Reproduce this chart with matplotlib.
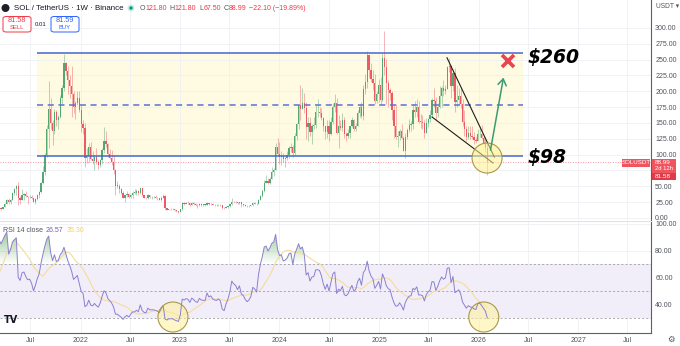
import numpy as np
import pandas as pd
import matplotlib
matplotlib.use("Agg")
import matplotlib.pyplot as plt
import matplotlib.dates as mdates
from matplotlib.patches import Ellipse, Rectangle, FancyBboxPatch, PathPatch
from matplotlib.path import Path

plt.rcParams['font.family'] = ['Liberation Sans', 'DejaVu Sans']

# ---------------- data (weekly SOL/USDT) ----------------
first_week = "2021-03-08"
first_open = 14.0
# warm-up closes (weeks before the visible range, only used to seed the RSI)
warmup_close = [3.0, 3.6, 4.5, 3.3, 3.1, 2.9, 2.95, 2.85, 2.7, 2.6, 1.9, 1.75,
                1.65, 1.9, 2.3, 2.6, 2.0, 1.75, 1.6, 1.5, 1.55, 3.4, 3.1, 3.9,
                4.3, 8.0, 8.4, 11.5, 14.0, 14.5]

c21 = [15.0, 14.6, 17.5, 22.5, 29.0, 24.5, 29.0, 40, 45, 50, 31, 29, 37, 38, 35, 33, 33.5, 31, 26, 30, 36, 41,
       55, 73, 100, 141, 172, 150, 137, 167, 155, 160, 190, 205, 245, 232, 218, 208, 195, 175, 182, 190, 170]
h21 = [16.0, 16.8, 18.0, 23.5, 30.5, 31.5, 30.0, 41, 48, 52, 57, 34, 45, 40, 43, 35.5, 37, 36, 32, 32, 38, 42,
       57, 82, 102, 147, 216, 190, 155, 172, 170, 163, 194, 210, 259, 247, 240, 225, 240, 200, 185, 200, 200]
l21 = [12.5, 13.2, 13.5, 17.0, 22.0, 22.0, 22.5, 28.5, 37, 37, 20.5, 22, 28, 29, 33, 22.5, 31, 30, 25, 22.5, 28, 32,
       40, 53, 68, 97, 110, 140, 115, 132, 145, 140, 158, 180, 200, 225, 195, 190, 160, 165, 157, 178, 168]

c22 = [148, 142, 94, 98, 112, 93, 90, 96, 88, 83, 92, 108, 122, 117, 101, 95, 88, 76, 51, 51, 45, 40, 32, 36, 38, 33,
       37, 40, 40, 42, 39, 47, 36, 32, 31, 36, 33, 33, 33, 32, 31, 29, 32, 34, 15, 13, 14, 13.7, 13.8, 12, 11, 10]
h22 = [178, 155, 150, 110, 118, 120, 105, 100, 110, 92, 93, 110, 143, 138, 118, 109, 107, 100, 78, 58, 53, 48, 43, 37,
       43, 39, 38, 42, 46, 45, 44, 48, 47, 37, 33, 38, 37, 35, 35, 36, 33, 32, 34, 38, 36, 16, 14.5, 15, 15, 14.5, 12, 11]
l22 = [135, 132, 81, 87, 88, 91, 85, 76, 85, 78, 80, 86, 102, 112, 96, 93, 84, 70, 37, 47, 40, 38, 31, 26, 33, 31,
       32, 32, 38, 36, 37, 38, 35, 31, 30, 30, 31, 30, 31, 31, 29, 28, 27, 31, 12, 12, 12, 13, 13, 11, 9.5, 8.0]

c23 = [13.5, 23.5, 22.5, 23.5, 23.0, 20.5, 23.0, 22.0, 20.5, 20.0, 22.0, 21.0, 20.8, 20.8, 24.0, 22.0, 22.5, 21.0,
       20.5, 20.3, 20.8, 20.0, 16.2, 15.5, 17.5, 19.0, 21.5, 26.0, 25.0, 24.5, 23.0, 24.5, 21.5, 21.0, 19.5, 18.5,
       19.0, 20.0, 23.0, 22.5, 21.5, 28.5, 35.0, 42.0, 56.0, 58.0, 56.0, 62.0, 72.0, 76.0, 112, 101]
h23 = [14, 25, 26, 26, 26.5, 23.5, 26, 26, 23, 21.5, 23.5, 23.5, 22, 21.5, 26, 24, 23.5, 23, 21.5, 21.5, 21.5, 21.5,
       20, 17.5, 18.5, 19.5, 22, 32, 27.5, 26.5, 25, 25.5, 25, 21.5, 22.5, 20.5, 20, 20.5, 24, 24.5, 23, 30, 36, 46,
       60, 68, 63, 65, 80, 79, 118, 126]
l23 = [9.8, 13, 20, 21.5, 21.5, 19.5, 20, 21, 19.5, 16.5, 19, 19.5, 19.5, 19.5, 20.5, 20, 20.5, 20, 19.5, 19.5, 19.5,
       19.5, 14.5, 14.5, 15, 16, 18, 21, 24, 23.5, 22, 22.5, 17, 19.5, 19, 17.5, 17.5, 18.5, 19, 21.5, 20.5, 21.5, 28,
       33, 41, 55, 53, 54, 62, 67, 75, 98]

c24 = [96, 98, 93, 95, 99, 110, 112, 103, 130, 148, 178, 172, 182, 173, 143, 150, 135, 146, 147, 167, 167, 166, 158,
       145, 135, 146, 133, 152, 176, 182, 134, 146, 142, 154, 132, 129, 134, 145, 155, 141, 146, 166, 176, 161, 203,
       214, 257, 234, 220, 213, 185, 196, 210]
h24 = [120, 106, 102, 97, 105, 114, 118, 115, 134, 150, 180, 210, 205, 198, 183, 160, 160, 148, 159, 178, 188, 176,
       174, 160, 146, 155, 155, 160, 182, 195, 190, 163, 155, 165, 160, 136, 141, 146, 160, 157, 150, 170, 178, 183,
       210, 227, 264, 250, 244, 234, 228, 201, 219]
l24 = [85, 84, 88, 80, 92, 95, 104, 97, 100, 123, 140, 155, 177, 166, 125, 122, 130, 117, 141, 142, 160, 160, 155,
       138, 124, 126, 122, 131, 148, 167, 132, 110, 139, 138, 126, 122, 126, 127, 143, 138, 137, 146, 160, 158, 155,
       195, 205, 221, 214, 202, 180, 181, 183]

c25 = [187, 253, 238, 213, 202, 198, 170, 145, 128, 129, 138, 126, 106, 128, 139, 147, 148, 171, 167, 176, 152, 152,
       150, 134, 150, 157, 162, 186, 185, 165, 176, 192, 205, 200, 204, 238, 240, 208, 229, 183, 187, 192, 180, 152,
       140, 128, 134, 130, 128, 123, 121, 132]
h25 = [222, 260, 295, 251, 218, 205, 200, 178, 180, 137, 140, 148, 130, 134, 142, 157, 153, 180, 185, 188, 185, 164,
       162, 155, 158, 158, 170, 190, 206, 191, 182, 209, 209, 218, 210, 240, 253, 241, 236, 237, 210, 205, 205, 188,
       170, 146, 145, 145, 145, 135, 128, 140]
l25 = [180, 185, 226, 180, 175, 187, 155, 126, 125, 112, 123, 124, 105, 95, 124, 135, 138, 141, 160, 160, 150, 142,
       141, 126, 136, 143, 151, 160, 176, 155, 160, 174, 175, 193, 195, 203, 230, 190, 200, 168, 175, 180, 174, 145,
       130, 122, 125, 125, 125, 117, 118, 121]

c26 = [133, 127, 119, 111.09, 88.99]
h26 = [145, 147, 130, 124, 121.8]
l26 = [128, 125, 117, 104, 67.5]

support, resistance = 98, 260
time_labels = ["Jul", "2022", "Jul", "2023", "Jul", "2024", "Jul", "2025", "Jul", "2026", "Jul", "2027", "Jul"]
time_ticks = ["2021-07-01", "2022-01-01", "2022-07-01", "2023-01-01", "2023-07-01", "2024-01-01", "2024-07-01",
              "2025-01-01", "2025-07-01", "2026-01-01", "2026-07-01", "2027-01-01", "2027-07-01"]
price_ticks = [0, 25, 50, 75, 100, 125, 150, 175, 200, 225, 250, 275, 300]
price_labels = ["0.00", "25.00", "50.00", "", "100.00", "125.00", "150.00", "175.00", "200.00",
                "225.00", "250.00", "275.00", "300.00"]
rsi_ticks = [40, 60, 80, 100]

# ---------------- derived series ----------------
close = np.array(c21 + c22 + c23 + c24 + c25 + c26, float)
high = np.array(h21 + h22 + h23 + h24 + h25 + h26, float)
low = np.array(l21 + l22 + l23 + l24 + l25 + l26, float)
openp = np.concatenate([[first_open], close[:-1]])
high = np.maximum(high, np.maximum(openp, close))
low = np.minimum(low, np.minimum(openp, close))
dates = pd.date_range(first_week, periods=len(close), freq="7D")
xd = mdates.date2num(dates.to_pydatetime())

allc = np.concatenate([warmup_close, close])
n = 14
d = np.diff(allc)
g = np.where(d > 0, d, 0.0)
lo = np.where(d < 0, -d, 0.0)
ag = np.zeros_like(d); al = np.zeros_like(d)
ag[n - 1] = g[:n].mean(); al[n - 1] = lo[:n].mean()
for i in range(n, len(d)):
    ag[i] = (ag[i - 1] * (n - 1) + g[i]) / n
    al[i] = (al[i - 1] * (n - 1) + lo[i]) / n
rsi_all = np.full(len(allc), np.nan)
rsi_all[1 + n - 1:] = 100 - 100 / (1 + ag[n - 1:] / np.maximum(al[n - 1:], 1e-9))
rsi_ma_all = pd.Series(rsi_all).rolling(14).mean().values
rsi = rsi_all[len(warmup_close):]
rsi_ma = rsi_ma_all[len(warmup_close):]

# ---------------- figure layout (pixel based) ----------------
W, H = 680, 346
R = 651
fig = plt.figure(figsize=(W / 100, H / 100), dpi=100)
fig.patch.set_facecolor("white")
ax1 = fig.add_axes([0, 1 - 220 / H, R / W, 220 / H])
ax2 = fig.add_axes([0, 1 - 333 / H, R / W, (333 - 221) / H])

base = mdates.date2num(pd.Timestamp("2022-01-01"))
dpp = 365.25 / 99.5       # days per pixel
xl = base - 80.6 * dpp
xr = xl + R * dpp
for ax in (ax1, ax2):
    ax.set_xlim(xl, xr)
    ax.set_facecolor("white")
    ax.set_axisbelow(True)
ax1.set_ylim(-3.16, 344.2)
ax2.set_ylim(19.26, 102.2)

grid_c = "#eef0f4"
tick_x = mdates.date2num(pd.to_datetime(time_ticks).to_pydatetime())
for ax in (ax1, ax2):
    ax.set_xticks(tick_x)
    for s in ("left", "top", "bottom"):
        ax.spines[s].set_visible(False)
    ax.spines["right"].set_color("#5d606b")
    ax.spines["right"].set_linewidth(0.8)
    ax.grid(True, color=grid_c, lw=0.6)
    ax.yaxis.tick_right()
    ax.tick_params(axis="both", length=0, labelsize=5.0, labelcolor="#50535e")
ax1.set_xticklabels([])
ax2.set_xticklabels(time_labels)
ax2.tick_params(axis="x", pad=3.2)
ax2.spines["bottom"].set_visible(True)
ax2.spines["bottom"].set_color("#5d606b")
ax2.spines["bottom"].set_linewidth(0.8)
ax2.spines["top"].set_visible(True)
ax2.spines["top"].set_color("#e0e3eb")
ax2.spines["top"].set_linewidth(0.8)
ax1.set_yticks(price_ticks)
ax1.set_yticklabels(price_labels)
ax2.set_yticks(rsi_ticks)
ax2.set_yticklabels([f"{v:.2f}" for v in rsi_ticks])
ax1.tick_params(axis="y", pad=3.0)
ax2.tick_params(axis="y", pad=3.0)

# ---------------- price pane ----------------
box_x0 = mdates.date2num(pd.Timestamp("2021-07-25"))
box_x1 = mdates.date2num(pd.Timestamp("2026-06-13"))
ax1.add_patch(Rectangle((box_x0, support), box_x1 - box_x0, resistance - support,
                        facecolor="#fffbe2", edgecolor="none", zorder=0.5))
ax1.hlines([resistance, support], box_x0, box_x1, color="#4467d0", lw=1.1, zorder=3)
ax1.hlines([(resistance + support) / 2], box_x0, box_x1, color="#5a70d8", lw=1.1,
           linestyles=(0, (4, 3)), zorder=3)

up = close >= openp
col = np.where(up, "#52a872", "#ec5a66")
ax1.vlines(xd, low, high, colors=col, lw=0.45, zorder=2, alpha=0.7)
body_bottom = np.minimum(openp, close)
body_h = np.maximum(np.abs(close - openp), 0.6)
ax1.bar(xd, body_h, bottom=body_bottom, width=4.6, color=col, edgecolor="none", zorder=2.2)

ax1.axhline(88.99, color="#f23645", lw=0.6, ls=(0, (1, 2)), alpha=0.7, zorder=2.5)

def dn(s):
    return mdates.date2num(pd.Timestamp(s))

# wedge lines
ax1.plot([dn("2025-09-07"), dn("2026-02-28")], [253, 96], color="#1e1e1e", lw=0.8, zorder=4)
ax1.plot([dn("2025-07-14"), dn("2026-02-23")], [159.5, 86.8], color="#1e1e1e", lw=0.8, zorder=4)

# circle on price
ppy1 = 220 / (344.2 + 3.16)
ax1.add_patch(Ellipse((dn("2026-02-01"), 94.7), 2 * 15 * dpp, 2 * 15 / ppy1,
                      facecolor="#fff190", alpha=0.55, edgecolor="none", zorder=4.5))
ax1.add_patch(Ellipse((dn("2026-02-01"), 94.7), 2 * 15 * dpp, 2 * 15 / ppy1,
                      facecolor="none", edgecolor="#a8984c", lw=0.8, zorder=4.6))

# green arrow
ax1.annotate("", xy=(dn("2026-04-04"), 226), xytext=(dn("2026-02-12"), 103),
             arrowprops=dict(arrowstyle="->,head_length=0.45,head_width=0.3", color="#3a9b72", lw=1.1),
             zorder=5)
# red X
ax1.plot([dn("2026-04-19")], [248], marker="x", ms=8, mew=2.6, color="#e8454f", zorder=5)

ax1.text(dn("2026-07-01"), 254, "$260", fontsize=13.5, fontweight="bold", fontstyle="italic",
         family="DejaVu Sans", color="black", va="center", ha="left", zorder=6)
ax1.text(dn("2026-07-01"), 96, "$98", fontsize=13.5, fontweight="bold", fontstyle="italic",
         family="DejaVu Sans", color="black", va="center", ha="left", zorder=6)

# ---------------- RSI pane ----------------
ax2.axhspan(30, 70, facecolor="#f2eef9", edgecolor="none", zorder=0.3)
for lvl in (70, 50, 30):
    ax2.axhline(lvl, color="#8a8d96", lw=0.5, ls=(0, (3, 3)), zorder=1)

def grad_fill(ax, x, y, thr, above, rgb, amax):
    if above:
        coll = ax.fill_between(x, y, thr, where=y > thr, interpolate=True, facecolor="none", edgecolor="none")
        ext = (x[0], x[-1], thr, 102)
        alpha = np.linspace(0, amax, 100)[:, None]
    else:
        coll = ax.fill_between(x, y, thr, where=y < thr, interpolate=True, facecolor="none", edgecolor="none")
        ext = (x[0], x[-1], 19, thr)
        alpha = np.linspace(amax, 0, 100)[:, None]
    paths = coll.get_paths()
    if not paths:
        return
    cp = Path.make_compound_path(*paths)
    patch = PathPatch(cp, transform=ax.transData, facecolor="none", edgecolor="none")
    ax.add_patch(patch)
    img = np.zeros((100, 2, 4))
    img[..., 0], img[..., 1], img[..., 2] = rgb
    img[..., 3] = alpha
    im = ax.imshow(img, extent=ext, origin="lower", aspect="auto", zorder=1.5, interpolation="bilinear")
    im.set_clip_path(patch)

valid = ~np.isnan(rsi)
grad_fill(ax2, xd[valid], rsi[valid], 70, True, (0.30, 0.62, 0.30), 0.75)
grad_fill(ax2, xd[valid], rsi[valid], 30, False, (0.95, 0.25, 0.25), 0.45)
ax2.set_xlim(xl, xr)
ax2.set_ylim(19.26, 102.2)

ax2.plot(xd, rsi_ma, color="#f4dc9c", lw=0.8, zorder=2)
ax2.plot(xd, rsi, color="#8b7fd0", lw=0.7, zorder=3.5)

ppy2 = 112 / (102.2 - 19.26)
for cx in ("2022-12-06", "2026-01-20"):
    ax2.add_patch(Ellipse((dn(cx), 31.1), 2 * 15 * dpp, 2 * 15 / ppy2,
                          facecolor="#fff190", alpha=0.5, edgecolor="none", zorder=3))
    ax2.add_patch(Ellipse((dn(cx), 31.1), 2 * 15 * dpp, 2 * 15 / ppy2,
                          facecolor="none", edgecolor="#a8984c", lw=0.8, zorder=3.6))

# ---------------- overlay texts / widgets (figure pixel coords) ----------------
def fx(x):
    return x / W
def fy(y):
    return 1 - y / H

def chain(ax, parts, x, y, size):
    t = fig.text(fx(x), fy(y), parts[0][0], color=parts[0][1], fontsize=size, va="center", ha="left")
    prev = t
    for s, c, gap in parts[1:]:
        prev = ax.annotate(s, xy=(1, 0), xycoords=prev, xytext=(gap, 0), textcoords="offset points",
                           va="bottom", ha="left", color=c, fontsize=size, annotation_clip=False, zorder=10)
    return t

fig.add_artist(Ellipse((fx(5.5), fy(8)), 8 / W, 8 / H, transform=fig.transFigure,
                       facecolor="#1d1f26", edgecolor="none"))
fig.text(fx(14), fy(8), "SOL / TetherUS · 1W · Binance", fontsize=5.7, color="#131722", va="center")
fig.add_artist(Ellipse((fx(131), fy(8)), 7 / W, 7 / H, transform=fig.transFigure,
                       facecolor="#c8ece3", edgecolor="none"))
fig.add_artist(Ellipse((fx(131), fy(8)), 3.4 / W, 3.4 / H, transform=fig.transFigure,
                       facecolor="#089981", edgecolor="none"))
red = "#f23645"
dk = "#50535e"
chain(ax1, [("O", dk), ("121.80", red, 0), ("H", dk, 2), ("121.80", red, 0), ("L", dk, 2), ("67.50", red, 0),
            ("C", dk, 2), ("88.99", red, 0), ("−22.10 (−19.89%)", red, 2)], 140, 8, 5.05)

def rbox(x0, y0, w, h, ec):
    fig.add_artist(FancyBboxPatch((fx(x0), fy(y0 + h)), w / W, h / H, transform=fig.transFigure,
                                  boxstyle="round,pad=0,rounding_size=0.005", facecolor="white",
                                  edgecolor=ec, lw=0.7))
rbox(3, 16.5, 28, 15.5, red)
fig.text(fx(17), fy(21), "81.58", color=red, fontsize=5.2, ha="center", va="center")
fig.text(fx(17), fy(27.5), "SELL", color=red, fontsize=4.2, ha="center", va="center")
fig.text(fx(40.5), fy(24), "0.01", color="#131722", fontsize=4.3, ha="center", va="center")
blue = "#2962ff"
rbox(51, 16.5, 28, 15.5, blue)
fig.text(fx(65), fy(21), "81.59", color=blue, fontsize=5.2, ha="center", va="center")
fig.text(fx(65), fy(27.5), "BUY", color=blue, fontsize=4.2, ha="center", va="center")

fig.text(fx(656), fy(7), "USDT ▾", fontsize=4.8, color="#50535e", va="center", ha="left")

def frect(x0, y0, w, h, c):
    fig.add_artist(Rectangle((fx(x0), fy(y0 + h)), w / W, h / H, transform=fig.transFigure,
                             facecolor=c, edgecolor="none"))
frect(622, 158.5, 28, 8.5, "#f0545f")
fig.text(fx(636), fy(162.8), "SOLUSDT", color="white", fontsize=4.4, ha="center", va="center")
frect(652, 158.5, 24, 14.5, "#f0545f")
frect(652, 173, 24, 6.5, "#e23b48")
fig.text(fx(655), fy(162.6), "88.99", color="white", fontsize=4.6, ha="left", va="center")
fig.text(fx(655), fy(168.8), "2d 12h", color="white", fontsize=4.2, ha="left", va="center")
fig.text(fx(655), fy(176.3), "81.58", color="white", fontsize=4.6, ha="left", va="center")

chain(ax2, [("RSI 14 close", "#50535e"), ("26.57", "#7e57c2", 2), ("35.30", "#f2cf73", 2)], 3, 230.5, 5.0)

fig.text(fx(4), fy(320), "TV", fontsize=7, fontweight="bold", color="#131722", va="center", ha="left",
         family="DejaVu Sans")
fig.text(fx(671), fy(339), "⚙", fontsize=6, color="#50535e", va="center", ha="center", family="DejaVu Sans")

fig.savefig("out.png", dpi=100, facecolor="white")
